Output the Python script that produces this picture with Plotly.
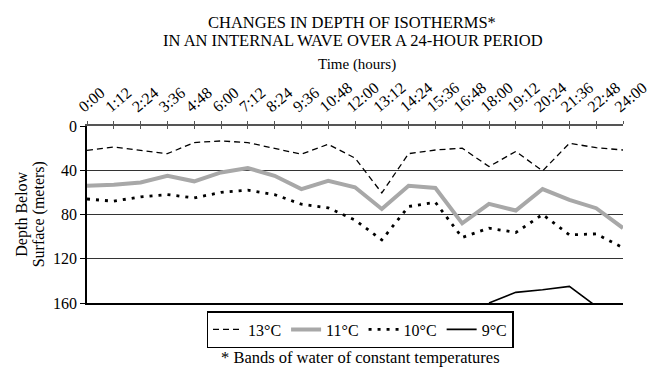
import plotly.graph_objects as go

hours = [0, 1.2, 2.4, 3.6, 4.8, 6.0, 7.2, 8.4, 9.6, 10.8, 12.0, 13.2, 14.4, 15.6,
         16.8, 18.0, 19.2, 20.4, 21.6, 22.8, 24.0]
tick_labels = ["0:00", "1:12", "2:24", "3:36", "4:48", "6:00", "7:12", "8:24", "9:36",
               "10:48", "12:00", "13:12", "14:24", "15:36", "16:48", "18:00", "19:12",
               "20:24", "21:36", "22:48", "24:00"]

depth_13 = [22, 19, 22, 25, 15, 13.5, 15, 20, 25.5, 16.5, 29, 60.5, 25, 21.7, 20, 36.7,
            23, 40.6, 15.6, 19.6, 21.7]
depth_11 = [54, 53, 51, 45, 50, 42, 38, 45, 57, 49.6, 55.4, 75, 54, 56, 88, 70.4, 76.4,
            57, 66.8, 74.3, 92.3]
depth_10 = [66, 68, 64, 62, 65, 60, 58, 62, 70.7, 74, 85, 103, 72.8, 69, 100.8, 92.3,
            96.3, 80, 98.4, 97.5, 110]
depth_9 = [None, None, None, None, None, None, None, None, None, None, None, None, None,
           None, None, 160, 150.4, 148, 145, 163, None]

y_ticks = [0, 40, 80, 120, 160]

FONT = "Liberation Serif"

# page offset of the figure (browser default body margin)
OFF = 8
W, H = 658 - OFF, 369 - OFF
plot_left, plot_right, plot_top, plot_bottom = 87, 623, 126, 303  # page pixels
plot_w = plot_right - plot_left
plot_h = plot_bottom - plot_top

fig = go.Figure()
fig.add_trace(go.Scatter(x=hours, y=depth_13, mode="lines", name="13°C",
                         line=dict(color="black", width=1.3, dash="6px,4px")))
fig.add_trace(go.Scatter(x=hours, y=depth_11, mode="lines", name="11°C",
                         line=dict(color="#a8a8a8", width=4)))
fig.add_trace(go.Scatter(x=hours, y=depth_10, mode="lines", name="10°C",
                         line=dict(color="black", width=2.8, dash="3px,6px")))
fig.add_trace(go.Scatter(x=hours, y=depth_9, mode="lines", name="9°C",
                         line=dict(color="black", width=1.6), connectgaps=False))
# helper traces so that overlay axes are drawn
fig.add_trace(go.Scatter(x=[0, 24], y=[None, None], xaxis="x2", showlegend=False,
                         hoverinfo="skip", mode="lines"))
fig.add_trace(go.Scatter(x=[0, 24], y=[None, None], xaxis="x3", showlegend=False,
                         hoverinfo="skip", mode="lines"))

fig.update_layout(
    width=W, height=H,
    margin=dict(l=plot_left - OFF, r=OFF + W - plot_right, t=plot_top - OFF,
                b=OFF + H - plot_bottom, autoexpand=False),
    paper_bgcolor="white", plot_bgcolor="white",
    font=dict(family=FONT, size=15, color="black"),
    showlegend=True,
    legend=dict(orientation="h", x=(360 - plot_left) / plot_w, xanchor="center",
                y=(plot_bottom - 311) / plot_h, yanchor="top",
                bordercolor="black", borderwidth=1.5, font=dict(size=16, family=FONT),
                itemwidth=30),
    xaxis=dict(range=[0, 24], side="top", tickvals=hours, ticktext=tick_labels,
               tickangle=-40, ticks="outside", ticklen=3, tickcolor="#555",
               ticklabeloverflow="allow", ticklabelshift=-8,
               showline=True, linecolor="#555", linewidth=1.5, showgrid=False,
               zeroline=False, tickfont=dict(size=16, family=FONT)),
    xaxis2=dict(range=[0, 24], overlaying="x", side="bottom", anchor="y",
                showline=True, linecolor="black", linewidth=2, showticklabels=False,
                ticks="", showgrid=False, zeroline=False),
    xaxis3=dict(range=[0, 24], overlaying="x", side="top", anchor="y",
                tickvals=hours, ticks="inside", ticklen=3, tickcolor="#555",
                showticklabels=False, showline=False, showgrid=False, zeroline=False),
    yaxis=dict(range=[160, 0], tickvals=y_ticks, ticks="outside", ticklen=5,
               tickcolor="black", showline=True, linecolor="black", linewidth=1.5,
               showgrid=True, gridcolor="#333", gridwidth=1, zeroline=False,
               tickfont=dict(size=16, family=FONT)),
)

annotations = [
    dict(text="CHANGES IN DEPTH OF ISOTHERMS*", x=352, y=23, size=16.5, angle=0),
    dict(text="IN AN INTERNAL WAVE OVER A 24-HOUR PERIOD", x=353, y=40, size=16.5, angle=0),
    dict(text="Time (hours)", x=357, y=65, size=15, angle=0),
    dict(text="* Bands of water of constant temperatures", x=360, y=357, size=16.5, angle=0),
    dict(text="Depth Below", x=21.7, y=214, size=16, angle=-90),
    dict(text="Surface (meters)", x=39.3, y=214, size=16, angle=-90),
]
for a in annotations:
    fig.add_annotation(text=a["text"], xref="paper", yref="paper",
                       x=(a["x"] - plot_left) / plot_w,
                       y=(plot_bottom - a["y"]) / plot_h,
                       xanchor="center", yanchor="middle", showarrow=False,
                       textangle=a["angle"], font=dict(size=a["size"], family=FONT))

fig.write_html("out.html")
